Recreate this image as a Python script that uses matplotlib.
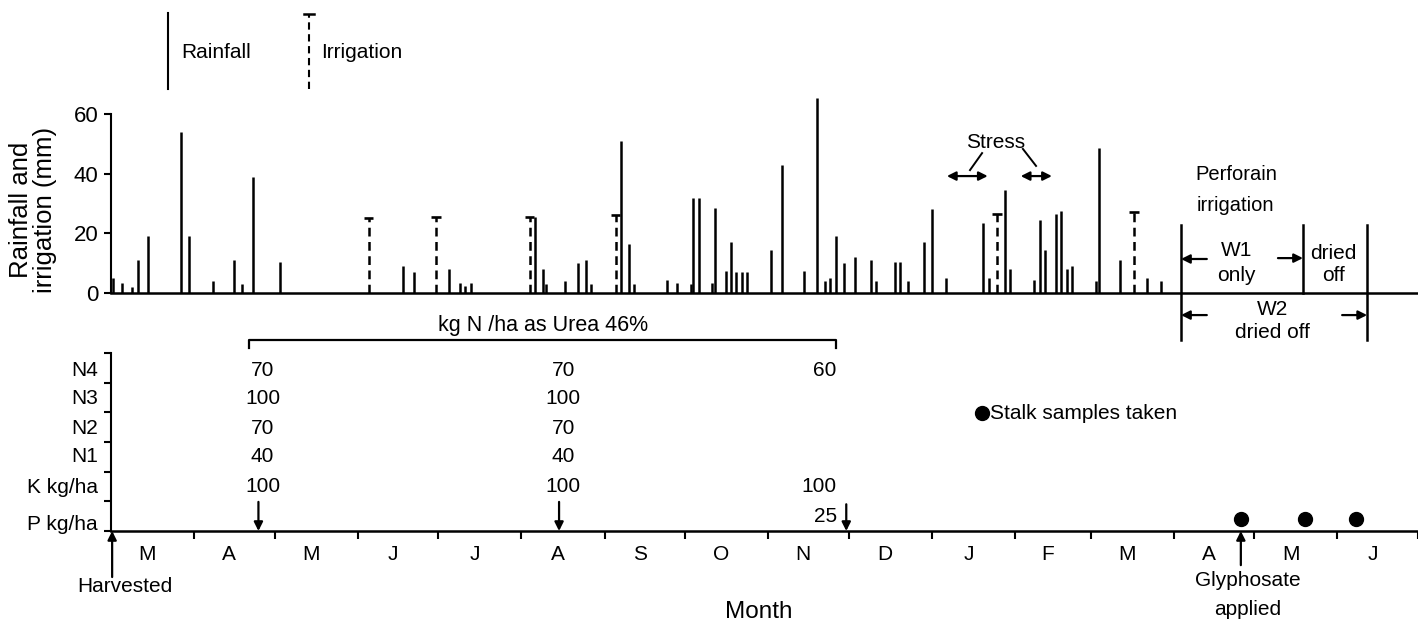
import numpy as np
import matplotlib.pyplot as plt
from matplotlib import font_manager

installed = {f.name for f in font_manager.fontManager.ttflist}
plt.rcParams['font.family'] = 'Liberation Sans' if 'Liberation Sans' in installed else 'DejaVu Sans'

# x axis = days after harvest (harvest on 1 March)
months = ['M', 'A', 'M', 'J', 'J', 'A', 'S', 'O', 'N', 'D', 'J', 'F', 'M', 'A', 'M', 'J']
month_len = [31, 30, 31, 30, 31, 31, 30, 31, 30, 31, 31, 28, 31, 30, 31, 30]

# daily rainfall events (mm)
rain_day = [1, 4, 8, 10, 14, 26, 29, 38, 46, 49, 53, 63, 109, 113, 126, 130, 132, 134,
            158, 161, 162, 169, 174, 177, 179, 190, 193, 195, 207, 211, 216, 217, 219,
            224, 225, 229, 231, 233, 235, 237, 246, 250, 258, 263, 266, 268, 270, 273,
            277, 283, 285, 292, 294, 297, 303, 306, 311, 325, 327, 333, 335, 344, 346,
            348, 352, 354, 356, 358, 367, 368, 376, 386, 391]
rain_mm = [5, 3.5, 2, 11, 19, 54, 19, 4, 11, 3, 39, 10.5, 9, 7, 8, 3.5, 2.5, 3.5,
           25.5, 8, 3, 4, 10, 11, 3, 51, 16.5, 3, 4.5, 3.5, 3, 32, 32,
           3.5, 28.5, 7.5, 17, 7, 7, 7, 14.5, 43, 7.5, 65.5, 4, 5, 19, 10,
           12, 11, 4, 10.5, 10.5, 4, 17, 28, 5, 23.5, 5, 34.5, 8, 4.5, 24.5,
           14.5, 26.5, 27.5, 8, 9, 4, 48.5, 11, 5, 4]

# irrigations (mm)
irr_day = [96, 121, 156, 188, 330, 381]
irr_mm = [25, 25.5, 25.5, 26, 26.5, 27]

# fertiliser applications (kg/ha)
fert_day = [55, 167, 274]
fert_rows = ['N4', 'N3', 'N2', 'N1', 'K kg/ha', 'P kg/ha']
n4 = [70, 70, 60]
n3 = [100, 100, None]
n2 = [70, 70, None]
n1 = [40, 40, None]
k_rate = [100, 100, 100]
p_rate = [None, None, 25]

stalk_day = [421, 445, 464]
glyphosate_day = 421
w1_start, w1_end, w2_end = 398.6, 444, 467.9

W, H = 1418, 627
fig = plt.figure(figsize=(W / 100, H / 100), dpi=100)
x0 = 110.8
xmax = (W - x0) / 2.685

# ---- rainfall / irrigation panel (0 mm at y=293 px, 2.983 px per mm)
top_px, bot_px = 8, 345
ax = fig.add_axes([x0 / W, 1 - bot_px / H, (W - x0) / W, (bot_px - top_px) / H])
ax.set_facecolor('none')
ax.set_xlim(0, xmax)
ax.set_ylim(-(bot_px - 293) / 2.983, (293 - top_px) / 2.983)
for s in ['top', 'right']:
    ax.spines[s].set_visible(False)
ax.spines['left'].set_bounds(0, 60)
ax.spines['left'].set_linewidth(1.5)
ax.spines['bottom'].set_position(('data', 0))
ax.spines['bottom'].set_linewidth(1.8)
ax.set_xticks([])
ax.set_yticks([0, 20, 40, 60])
ax.tick_params(axis='y', length=5, width=1.5, labelsize=16, pad=4)

ax.vlines(rain_day, 0, rain_mm, color='k', lw=1.8)
ax.vlines(irr_day, 0, irr_mm, color='k', lw=1.8, linestyles=(0, (3.5, 2.2)))
ax.hlines(irr_mm, np.array(irr_day) - 1.8, np.array(irr_day) + 1.8, color='k', lw=1.9)

# key
ax.plot([21.2, 21.2], [68.5, 94], color='k', lw=1.5, clip_on=False)
ax.text(26.1, 80.5, 'Rainfall', fontsize=15, va='center')
ax.plot([73.7, 73.7], [68.5, 93.5], color='k', lw=1.5, ls=(0, (3.5, 2.2)), clip_on=False)
ax.plot([71.9, 75.5], [93.5, 93.5], color='k', lw=1.8, clip_on=False)
ax.text(78.3, 80.5, 'Irrigation', fontsize=15, va='center')

# stress periods
dbl = dict(arrowstyle='<|-|>', lw=1.6, color='k', mutation_scale=13, shrinkA=0, shrinkB=0)
ax.annotate('', xy=(326.6, 39.2), xytext=(311.4, 39.2), arrowprops=dbl)
ax.annotate('', xy=(350.5, 39.2), xytext=(338.9, 39.2), arrowprops=dbl)
ax.text(329.5, 50.5, 'Stress', fontsize=15, ha='center', va='center')
ax.plot([324.5, 320], [46.9, 41.2], color='k', lw=1.4)
ax.plot([339.7, 344.6], [48.3, 42.6], color='k', lw=1.4)

# perforain irrigation treatments
ax.text(419, 39.6, 'Perforain', fontsize=14.5, ha='center', va='center')
ax.text(419, 29.5, 'irrigation', fontsize=14.5, ha='center', va='center')
ax.plot([w1_start, w1_start], [-15.7, 22.7], color='k', lw=1.8, clip_on=False)
ax.plot([w1_end, w1_end], [0, 22.7], color='k', lw=1.8)
ax.plot([w2_end, w2_end], [-15.7, 22.7], color='k', lw=1.8, clip_on=False)
one = dict(arrowstyle='-|>', lw=1.6, color='k', mutation_scale=13, shrinkA=0, shrinkB=0)
ax.annotate('', xy=(w1_start, 11.4), xytext=(w1_start + 9.6, 11.4), arrowprops=one)
ax.annotate('', xy=(w1_end, 11.7), xytext=(w1_end - 9.3, 11.7), arrowprops=one)
ax.annotate('', xy=(w1_start, -7.4), xytext=(w1_start + 9.6, -7.4), arrowprops=one)
ax.annotate('', xy=(w2_end, -7.4), xytext=(w2_end - 9.3, -7.4), arrowprops=one)
ax.text(419.2, 14.4, 'W1', fontsize=15, ha='center', va='center')
ax.text(419.2, 6.0, 'only', fontsize=15, ha='center', va='center')
ax.text(455.2, 13.4, 'dried', fontsize=15, ha='center', va='center')
ax.text(455.2, 6.0, 'off', fontsize=15, ha='center', va='center')
ax.text(432.5, -5.4, 'W2', fontsize=15, ha='center', va='center')
ax.text(432.5, -13.4, 'dried off', fontsize=15, ha='center', va='center')

fig.text(33 / W, 1 - 210 / H, 'Rainfall and\nirrigation (mm)', rotation=90,
         ha='center', va='center', fontsize=18.5, linespacing=0.95)

# ---- fertiliser / timeline panel (row 0 at y=531 px, 29.7 px per row)
top2, bot2 = 300, 627
bx = fig.add_axes([x0 / W, 1 - bot2 / H, (W - x0) / W, (bot2 - top2) / H])
bx.set_facecolor('none')
bx.set_xlim(0, xmax)
bx.set_ylim(-(bot2 - 531) / 29.7, (531 - top2) / 29.7)
for s in ['top', 'right']:
    bx.spines[s].set_visible(False)
bx.spines['left'].set_bounds(0, 6)
bx.spines['left'].set_linewidth(1.5)
bx.spines['bottom'].set_position(('data', 0))
bx.spines['bottom'].set_linewidth(1.8)
bx.set_yticks(range(7))
bx.set_yticklabels([])
bx.tick_params(axis='y', length=5, width=1.5)
bounds = np.cumsum(month_len)
bx.set_xticks(bounds)
bx.set_xticklabels([])
bx.tick_params(axis='x', length=6, width=1.5)

row_y = [5.4, 4.45, 3.45, 2.5, 1.45, 0.22]
for lab, y in zip(fert_rows, row_y):
    bx.text(-4.8, y, lab, fontsize=15, ha='right', va='center')

val_y = [5.4, 4.45, 3.45, 2.5, 1.5, 0.5]
for vals, y in zip([n4, n3, n2, n1, k_rate, p_rate], val_y):
    for i, (d, v) in enumerate(zip(fert_day, vals)):
        if v is None:
            continue
        if i < 2:
            bx.text(d + 1.5, y, str(v), fontsize=15, ha='center', va='center')
        else:
            bx.text(d - 3.5, y, str(v), fontsize=15, ha='right', va='center')

down = dict(arrowstyle='-|>', lw=1.6, color='k', mutation_scale=13, shrinkA=0, shrinkB=0)
for d, top in zip(fert_day, [0.98, 0.98, 0.9]):
    bx.annotate('', xy=(d, 0), xytext=(d, top), arrowprops=down)

bx.plot([51.5, 51.5, 270, 270], [6.15, 6.42, 6.42, 6.15], color='k', lw=1.6, clip_on=False)
bx.text(161, 6.92, 'kg N /ha as Urea 46%', fontsize=15.5, ha='center', va='center')

bx.plot(stalk_day, [0.42] * len(stalk_day), 'o', color='k', ms=10)
bx.plot([324.6], [3.97], 'o', color='k', ms=10)
bx.text(327.6, 3.97, 'Stalk samples taken', fontsize=15, ha='left', va='center')

mid = np.concatenate([[0], bounds[:-1]]) + np.array(month_len) / 2 - 2
for m, x in zip(months, mid):
    bx.text(x, -0.8, m, fontsize=15, ha='center', va='center')

bx.annotate('', xy=(0.5, 0), xytext=(0.5, -1.55), arrowprops=down)
bx.text(5.3, -1.88, 'Harvested', fontsize=15, ha='center', va='center')
bx.annotate('', xy=(glyphosate_day, 0), xytext=(glyphosate_day, -1.15), arrowprops=down)
bx.text(glyphosate_day + 2.5, -1.65, 'Glyphosate', fontsize=15, ha='center', va='center')
bx.text(glyphosate_day + 2.5, -2.65, 'applied', fontsize=15, ha='center', va='center')
bx.text(241.4, -2.73, 'Month', fontsize=17.5, ha='center', va='center')

fig.savefig('out.png', dpi=100)
